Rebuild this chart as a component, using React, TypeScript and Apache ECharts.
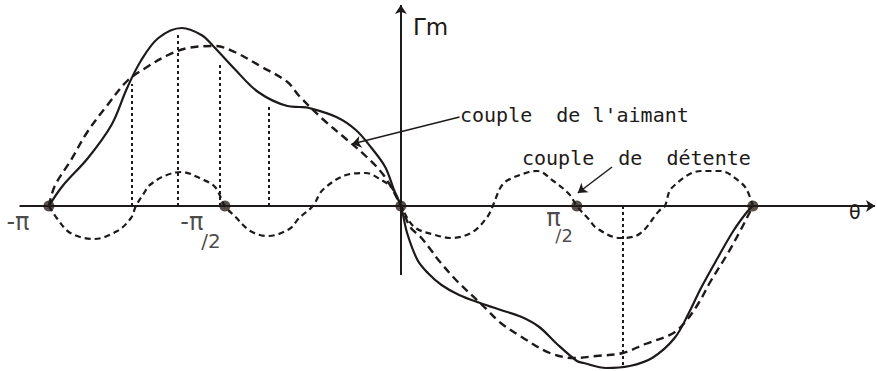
import { useEffect, useRef } from 'react';
import * as echarts from 'echarts';

// angle θ in degrees (-180 = -π ... 180 = π), torque in arbitrary units
const totalTheta = [-180, -173, -160, -148, -140, -133, -124, -112, -102, -96, -85, -73, -58, -52, -47, -33, -23, -15, -8, -3.5, 0, 3.2, 8.5, 13.8, 20.8, 29.8, 40.5, 51.1, 61.8, 70.8, 79.3, 90, 93.5, 105, 117, 128.5, 140, 147, 153.5, 162, 170, 177, 180];
const totalTorque = [0, 0.2, 0.48, 0.81, 1.18, 1.45, 1.68, 1.78, 1.71, 1.6, 1.37, 1.14, 1.0, 0.99, 0.98, 0.89, 0.76, 0.58, 0.39, 0.16, 0, -0.27, -0.54, -0.67, -0.79, -0.89, -0.97, -1.04, -1.11, -1.21, -1.37, -1.55, -1.57, -1.62, -1.6, -1.52, -1.32, -1.08, -0.82, -0.52, -0.25, -0.06, 0];

const magnetTheta = [-180, -177, -169, -160, -150, -140, -129, -119, -109, -95, -85, -72, -58, -52, -40, -28, -18, -8.5, 0, 4.8, 10.1, 15.4, 19.2, 28.2, 38.9, 44.2, 51.1, 61.8, 76.2, 88.4, 100, 113.5, 125, 138.5, 145, 152, 158.5, 167, 173.5, 178.5, 180];
const magnetTorque = [0, 0.2, 0.45, 0.75, 1.01, 1.25, 1.4, 1.51, 1.58, 1.6, 1.54, 1.4, 1.24, 1.1, 0.87, 0.67, 0.5, 0.3, 0, -0.21, -0.31, -0.44, -0.54, -0.74, -0.94, -1.04, -1.17, -1.31, -1.47, -1.52, -1.5, -1.47, -1.38, -1.28, -1.17, -0.98, -0.75, -0.48, -0.25, -0.06, 0];

const coggingTheta = [-180, -176, -169, -157, -145, -138, -135.5, -131, -129, -121, -112, -102, -95, -90, -85, -77, -68, -57, -52, -45, -40, -28, -18, -10, -4.5, 0, 6.9, 17.6, 26.1, 36.7, 44.2, 47, 51.1, 54.8, 65.5, 69.8, 78, 86, 90, 96, 100, 112, 122, 132, 135, 138.5, 153.5, 163.5, 173.5, 177, 180];
const coggingTorque = [0, -0.12, -0.27, -0.33, -0.25, -0.12, 0, 0.14, 0.2, 0.3, 0.34, 0.27, 0.19, 0, -0.1, -0.25, -0.3, -0.23, -0.12, 0, 0.16, 0.31, 0.33, 0.26, 0.18, 0, -0.21, -0.29, -0.32, -0.26, -0.11, 0, 0.19, 0.26, 0.34, 0.35, 0.25, 0.12, 0, -0.13, -0.22, -0.32, -0.28, -0.05, 0, 0.18, 0.35, 0.35, 0.24, 0.16, 0];

// dotted construction lines (angle, torque reached)
const dropTheta = [-137.6, -114.3, -92.6, -67.6, 113.5];
const dropTorque = [1.22, 1.74, 1.44, 0.99, -1.62];

// key points on the θ axis and their tick labels
const keyTheta = [-180, -90, 0, 90, 180];
const keyLabels = ['{p|-π}', '{p|-π}\n{f|/2}', '', '{p|π}\n{g|/2}', ''];

const INK = '#1d1a19';

function zip(a: number[], b: number[]) {
  return a.map((v, i) => [v, b[i]]);
}

export default function App() {
  const ref = useRef<HTMLDivElement>(null);
  useEffect(() => {
    if (!ref.current) return;
    const chart = echarts.init(ref.current, undefined, { renderer: 'svg' });
    const labelPos: Record<number, number[]> = { [-180]: [-37, 11], [-90]: [-39, 11], [90]: [-25, 7] };
    const option: any = {
      animation: false,
      backgroundColor: '#ffffff',
      grid: { left: 0, right: 0, top: 0, bottom: 0 },
      xAxis: { type: 'value', min: -205, max: 243.5, show: false },
      yAxis: { type: 'value', min: -1.65, max: 2.06, show: false },
      series: [
        {
          name: 'axes',
          type: 'line',
          data: [],
          markLine: {
            silent: true,
            symbol: ['none', 'arrow'],
            symbolSize: 9,
            label: { show: false },
            lineStyle: { color: INK, width: 2, type: 'solid' },
            data: [
              [{ coord: [-195, 0] }, { coord: [242.5, 0] }],
              [{ coord: [0, -0.69] }, { coord: [0, 2.01] }],
            ],
          },
        },
        {
          name: 'guides',
          type: 'line',
          data: [],
          markLine: {
            silent: true,
            symbol: ['none', 'none'],
            label: { show: false },
            lineStyle: { color: INK, width: 2, type: [3, 3] },
            data: dropTheta.map((t, i) => [{ coord: [t, 0] }, { coord: [t, dropTorque[i]] }]),
          },
        },
        {
          name: 'couple total',
          type: 'line',
          data: zip(totalTheta, totalTorque),
          smooth: 0.35,
          symbol: 'none',
          lineStyle: { color: INK, width: 2.2 },
        },
        {
          name: "couple de l'aimant",
          type: 'line',
          data: zip(magnetTheta, magnetTorque),
          smooth: 0.35,
          symbol: 'none',
          lineStyle: { color: INK, width: 2.4, type: [8, 5] },
        },
        {
          name: 'couple de détente',
          type: 'line',
          data: zip(coggingTheta, coggingTorque),
          smooth: 0.35,
          symbol: 'none',
          lineStyle: { color: INK, width: 2.2, type: [6, 4] },
        },
        {
          name: 'pointers',
          type: 'line',
          data: [],
          markLine: {
            silent: true,
            symbol: ['none', 'arrow'],
            symbolSize: 9,
            label: { show: false },
            lineStyle: { color: INK, width: 1.5, type: 'solid' },
            data: [
              [{ coord: [30, 0.89] }, { coord: [-25, 0.62] }],
              [{ coord: [108, 0.39] }, { coord: [90.5, 0.13] }],
            ],
          },
        },
        {
          name: 'points',
          type: 'scatter',
          symbol: 'circle',
          symbolSize: 11,
          itemStyle: { color: '#2d2420' },
          data: keyTheta.map((t, i) => ({
            value: [t, 0],
            label: {
              show: keyLabels[i] !== '',
              formatter: keyLabels[i],
              position: labelPos[t] || [0, 0],
              align: 'left',
              verticalAlign: 'top',
              color: INK,
              fontFamily: 'DejaVu Sans',
              rich: {
                p: { fontSize: 24, lineHeight: 20, color: INK, fontFamily: 'DejaVu Sans' },
                f: { fontSize: 20, lineHeight: 18, color: INK, fontFamily: 'DejaVu Sans', padding: [0, 0, 0, 21] },
                g: { fontSize: 18, lineHeight: 16, color: INK, fontFamily: 'DejaVu Sans', padding: [0, 0, 0, 9] },
              },
            },
          })),
        },
      ],
      graphic: [
        {
          type: 'text',
          x: 413,
          y: 27,
          style: { text: 'Γm', fontSize: 23, fontFamily: 'DejaVu Sans', fill: INK, verticalAlign: 'middle' },
        },
        {
          type: 'text',
          x: 849,
          y: 212,
          style: { text: 'θ', fontSize: 19, fontFamily: 'DejaVu Sans', fill: INK, verticalAlign: 'middle' },
        },
        {
          type: 'text',
          x: 460,
          y: 115,
          style: { text: "couple  de l'aimant", fontSize: 20, fontFamily: 'DejaVu Sans Mono', fill: INK, verticalAlign: 'middle' },
        },
        {
          type: 'text',
          x: 522,
          y: 158,
          style: { text: 'couple  de  détente', fontSize: 20, fontFamily: 'DejaVu Sans Mono', fill: INK, verticalAlign: 'middle' },
        },
      ],
    };
    chart.setOption(option);
    return () => chart.dispose();
  }, []);
  return (
    <div
      ref={ref}
      style={{ position: 'fixed', left: 0, top: 0, width: 877, height: 371, background: '#fff' }}
    />
  );
}
